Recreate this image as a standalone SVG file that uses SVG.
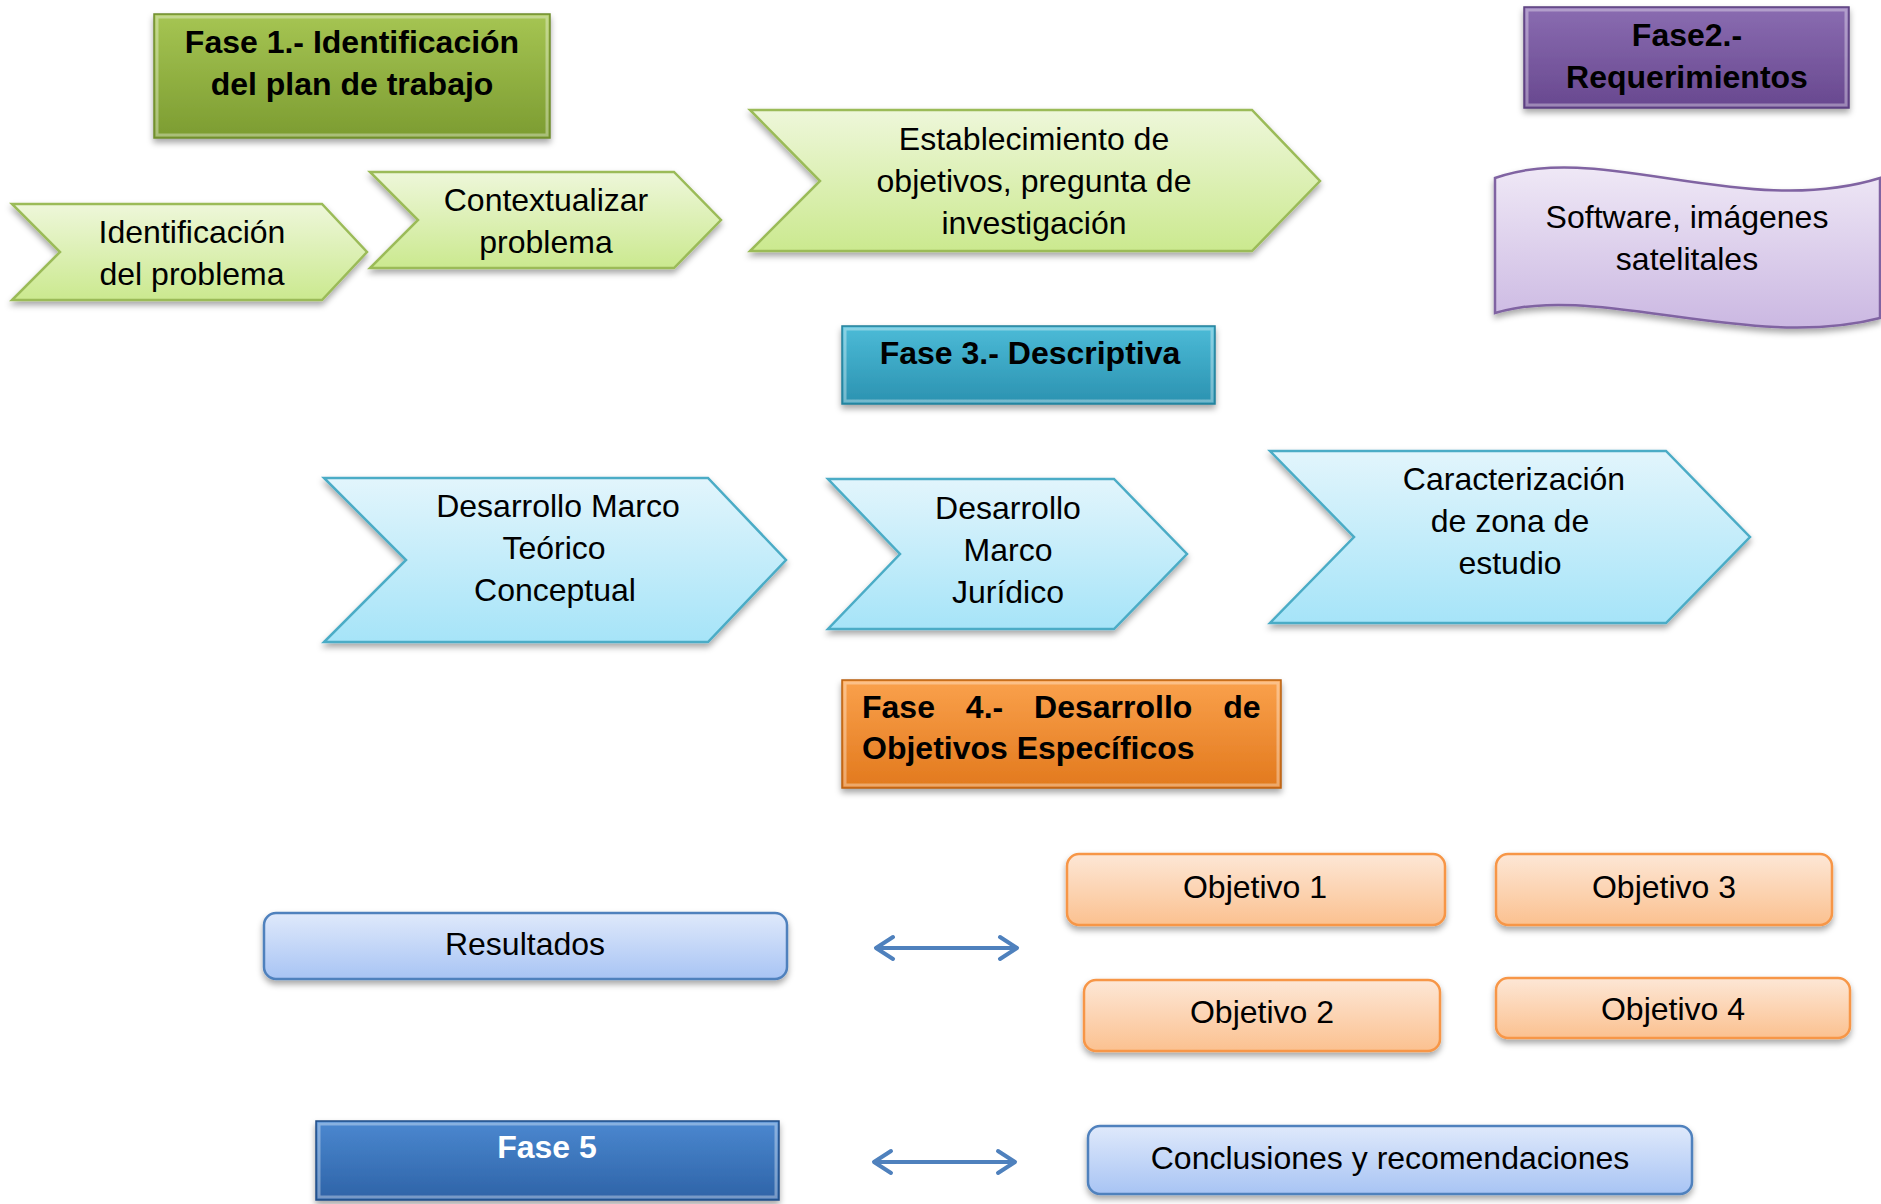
<svg xmlns="http://www.w3.org/2000/svg" width="1881" height="1204" viewBox="0 0 1881 1204">
<style>
text{font-family:"Liberation Sans",Arial,sans-serif;font-size:32px;fill:#000;text-anchor:middle}
.b{font-weight:bold}
.w{fill:#fff}
.gch{fill:url(#gGreen);stroke:#9bbb59;stroke-width:2.5}
.bch{fill:url(#gBlue);stroke:#4bacc6;stroke-width:2.5}
.orr{fill:url(#gOrangeL);stroke:#f79646;stroke-width:2.5}
.brr{fill:url(#gBlueL);stroke:#4f81bd;stroke-width:2.5}
.bev{fill:none;stroke:#fff;stroke-opacity:.35;stroke-width:3}
.arr{fill:none;stroke:#4f81bd;stroke-width:4;stroke-linecap:round;stroke-linejoin:round}
</style>
<defs>
<filter id="sh" x="-10%" y="-10%" width="120%" height="135%">
<feDropShadow dx="0" dy="4" stdDeviation="3" flood-color="#000" flood-opacity="0.35"/>
</filter>
<linearGradient id="gGreen" x1="0" y1="0" x2="0" y2="1"><stop offset="0" stop-color="#eef7da"/><stop offset="1" stop-color="#cbe98f"/></linearGradient>
<linearGradient id="gBlue" x1="0" y1="0" x2="0" y2="1"><stop offset="0" stop-color="#e2f5fc"/><stop offset="1" stop-color="#a6e4f8"/></linearGradient>
<linearGradient id="gPurpleL" x1="0" y1="0" x2="0" y2="1"><stop offset="0" stop-color="#efe8f6"/><stop offset="1" stop-color="#cbb8e2"/></linearGradient>
<linearGradient id="gOrangeL" x1="0" y1="0" x2="0" y2="1"><stop offset="0" stop-color="#fde7d6"/><stop offset="1" stop-color="#fbc190"/></linearGradient>
<linearGradient id="gBlueL" x1="0" y1="0" x2="0" y2="1"><stop offset="0" stop-color="#dfe9fb"/><stop offset="1" stop-color="#a8c4f4"/></linearGradient>
<linearGradient id="gF1" x1="0" y1="0" x2="0" y2="1"><stop offset="0" stop-color="#a6c553"/><stop offset="1" stop-color="#7c9c31"/></linearGradient>
<linearGradient id="gF2" x1="0" y1="0" x2="0" y2="1"><stop offset="0" stop-color="#8a6cb1"/><stop offset="1" stop-color="#68488f"/></linearGradient>
<linearGradient id="gF3" x1="0" y1="0" x2="0" y2="1"><stop offset="0" stop-color="#4cbbd7"/><stop offset="1" stop-color="#2b92b0"/></linearGradient>
<linearGradient id="gF4" x1="0" y1="0" x2="0" y2="1"><stop offset="0" stop-color="#faa14c"/><stop offset="1" stop-color="#e2791d"/></linearGradient>
<linearGradient id="gF5" x1="0" y1="0" x2="0" y2="1"><stop offset="0" stop-color="#4b88d0"/><stop offset="1" stop-color="#2e63a7"/></linearGradient>
</defs>
<rect width="1881" height="1204" fill="#fff"/>

<g id="fase1">
<rect x="154" y="14" width="396" height="124" fill="url(#gF1)" stroke="#6f8c2c" stroke-width="1.5" filter="url(#sh)"/>
<rect class="bev" x="157" y="17" width="390" height="118"/>
<text class="b" x="352" y="53">Fase 1.- Identificación</text>
<text class="b" x="352" y="95">del plan de trabajo</text>
</g>

<g id="fase2">
<rect x="1524" y="7" width="325" height="101" fill="url(#gF2)" stroke="#5a3e7e" stroke-width="1.5" filter="url(#sh)"/>
<rect class="bev" x="1527" y="10" width="319" height="95"/>
<text class="b" x="1687" y="46">Fase2.-</text>
<text class="b" x="1687" y="88">Requerimientos</text>
</g>

<g id="identificacion">
<polygon class="gch" filter="url(#sh)" points="12,204 322,204 367,252 322,300 12,300 60,252"/>
<text x="192" y="243">Identificación</text>
<text x="192" y="285">del problema</text>
</g>

<g id="contextualizar">
<polygon class="gch" filter="url(#sh)" points="370,172 674,172 721,220 674,268 370,268 418,220"/>
<text x="546" y="211">Contextualizar</text>
<text x="546" y="253">problema</text>
</g>

<g id="establecimiento">
<polygon class="gch" filter="url(#sh)" points="750,110 1252,110 1320,181 1252,251 750,251 820,181"/>
<text x="1034" y="150">Establecimiento de</text>
<text x="1034" y="192">objetivos, pregunta de</text>
<text x="1034" y="234">investigación</text>
</g>

<g id="software">
<path d="M1495,178 C1600,140 1745,220 1880,178 L1880,318 C1750,352 1595,282 1495,313 Z" fill="url(#gPurpleL)" stroke="#8064a2" stroke-width="2.5" filter="url(#sh)"/>
<text x="1687" y="228">Software, imágenes</text>
<text x="1687" y="270">satelitales</text>
</g>

<g id="fase3">
<rect x="842" y="326" width="373" height="78" fill="url(#gF3)" stroke="#23809b" stroke-width="1.5" filter="url(#sh)"/>
<rect class="bev" x="845" y="329" width="367" height="72"/>
<text class="b" x="1030" y="364">Fase 3.- Descriptiva</text>
</g>

<g id="marcoTeorico">
<polygon class="bch" filter="url(#sh)" points="324,478 708,478 786,560 708,642 324,642 406,560"/>
<text x="558" y="517">Desarrollo Marco</text>
<text x="554" y="559">Teórico</text>
<text x="555" y="601">Conceptual</text>
</g>

<g id="marcoJuridico">
<polygon class="bch" filter="url(#sh)" points="828,479 1114,479 1187,554 1114,629 828,629 900,554"/>
<text x="1008" y="519">Desarrollo</text>
<text x="1008" y="561">Marco</text>
<text x="1008" y="603">Jurídico</text>
</g>

<g id="caracterizacion">
<polygon class="bch" filter="url(#sh)" points="1270,451 1666,451 1750,537 1666,623 1270,623 1354,537"/>
<text x="1514" y="490">Caracterización</text>
<text x="1510" y="532">de zona de</text>
<text x="1510" y="574">estudio</text>
</g>

<g id="fase4">
<rect x="842" y="680" width="439" height="108" fill="url(#gF4)" stroke="#b9600f" stroke-width="1.5" filter="url(#sh)"/>
<rect class="bev" x="845" y="683" width="433" height="102"/>
<text class="b" x="862" y="718" style="text-anchor:start" word-spacing="22">Fase 4.- Desarrollo de</text>
<text class="b" x="862" y="759" style="text-anchor:start">Objetivos Específicos</text>
</g>

<g id="resultados">
<rect class="brr" x="264" y="913" width="523" height="66" rx="12" filter="url(#sh)"/>
<text x="525" y="955">Resultados</text>
</g>

<g id="objetivo1">
<rect class="orr" x="1067" y="854" width="378" height="71" rx="12" filter="url(#sh)"/>
<text x="1255" y="898">Objetivo 1</text>
</g>

<g id="objetivo3">
<rect class="orr" x="1496" y="854" width="336" height="71" rx="12" filter="url(#sh)"/>
<text x="1664" y="898">Objetivo 3</text>
</g>

<g id="objetivo2">
<rect class="orr" x="1084" y="980" width="356" height="71" rx="12" filter="url(#sh)"/>
<text x="1262" y="1023">Objetivo 2</text>
</g>

<g id="objetivo4">
<rect class="orr" x="1496" y="978" width="354" height="60" rx="12" filter="url(#sh)"/>
<text x="1673" y="1020">Objetivo 4</text>
</g>

<g id="fase5">
<rect x="316" y="1121" width="463" height="79" fill="url(#gF5)" stroke="#1f4c86" stroke-width="1.5" filter="url(#sh)"/>
<rect class="bev" x="319" y="1124" width="457" height="73"/>
<text class="b w" x="547" y="1158">Fase 5</text>
</g>

<g id="conclusiones">
<rect class="brr" x="1088" y="1126" width="604" height="68" rx="12" filter="url(#sh)"/>
<text x="1390" y="1169">Conclusiones y recomendaciones</text>
</g>

<g id="connectors">
<path class="arr" d="M876,948 L1017,948 M893,937 L876,948 L893,959 M1000,937 L1017,948 L1000,959"/>
<path class="arr" d="M874,1162 L1015,1162 M891,1151 L874,1162 L891,1173 M998,1151 L1015,1162 L998,1173"/>
</g>
</svg>
